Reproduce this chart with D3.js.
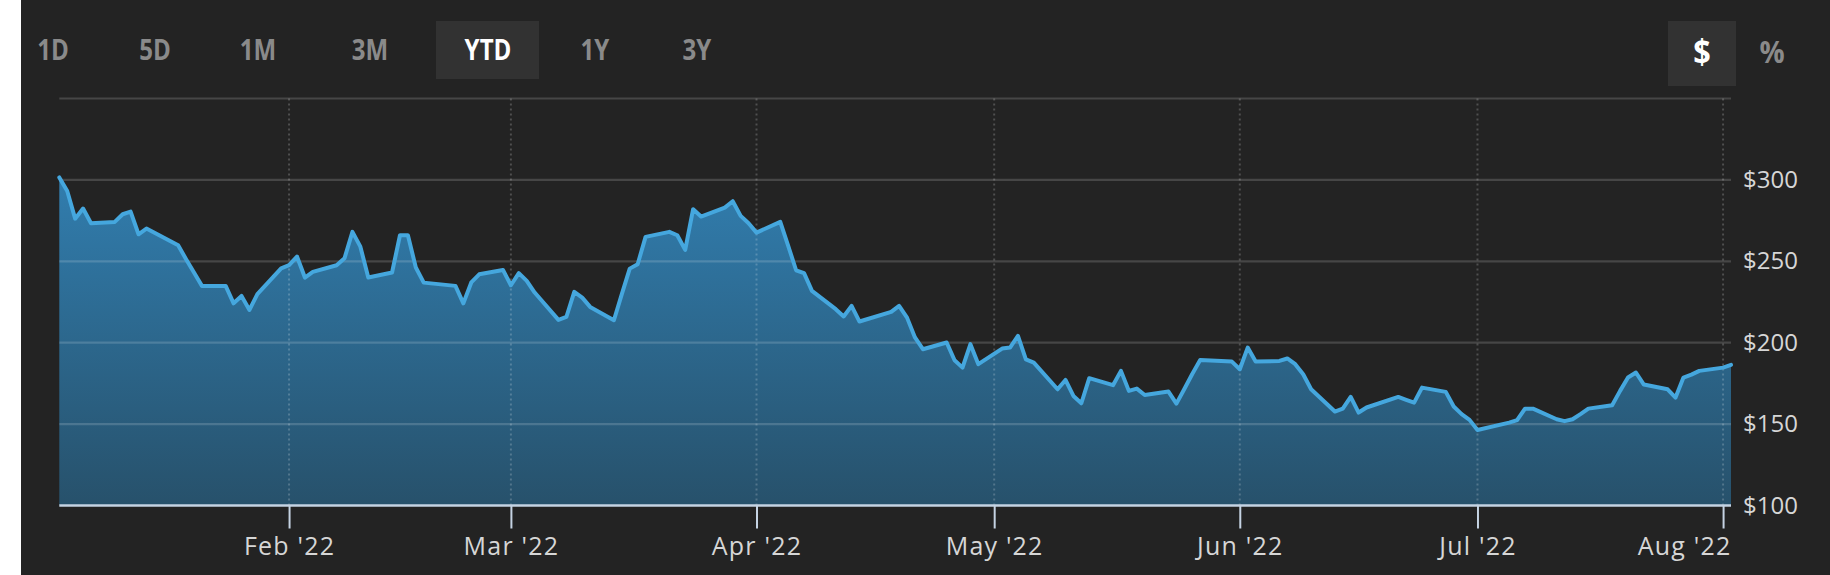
<!DOCTYPE html>
<html><head><meta charset="utf-8">
<script src="https://cdn.jsdelivr.net/npm/d3@7"></script>
<style>
html,body{margin:0;padding:0;background:#fff;}
svg{display:block;}
</style></head><body>
<svg id="chart" width="1830" height="575"></svg>
<script>
// ---- data ----
const dates = [
"2022-01-03","2022-01-04","2022-01-05","2022-01-06","2022-01-07",
"2022-01-10","2022-01-11","2022-01-12","2022-01-13","2022-01-14",
"2022-01-18","2022-01-19","2022-01-20","2022-01-21",
"2022-01-24","2022-01-25","2022-01-26","2022-01-27","2022-01-28",
"2022-01-31","2022-02-01","2022-02-02","2022-02-03","2022-02-04",
"2022-02-07","2022-02-08","2022-02-09","2022-02-10","2022-02-11",
"2022-02-14","2022-02-15","2022-02-16","2022-02-17","2022-02-18",
"2022-02-22","2022-02-23","2022-02-24","2022-02-25",
"2022-02-28","2022-03-01","2022-03-02","2022-03-03","2022-03-04",
"2022-03-07","2022-03-08","2022-03-09","2022-03-10","2022-03-11",
"2022-03-14","2022-03-15","2022-03-16","2022-03-17","2022-03-18",
"2022-03-21","2022-03-22","2022-03-23","2022-03-24","2022-03-25",
"2022-03-28","2022-03-29","2022-03-30","2022-03-31","2022-04-01",
"2022-04-04","2022-04-05","2022-04-06","2022-04-07","2022-04-08",
"2022-04-11","2022-04-12","2022-04-13","2022-04-14",
"2022-04-18","2022-04-19","2022-04-20","2022-04-21","2022-04-22",
"2022-04-25","2022-04-26","2022-04-27","2022-04-28","2022-04-29",
"2022-05-02","2022-05-03","2022-05-04","2022-05-05","2022-05-06",
"2022-05-09","2022-05-10","2022-05-11","2022-05-12","2022-05-13",
"2022-05-16","2022-05-17","2022-05-18","2022-05-19","2022-05-20",
"2022-05-23","2022-05-24","2022-05-25","2022-05-26","2022-05-27",
"2022-05-31","2022-06-01","2022-06-02","2022-06-03",
"2022-06-06","2022-06-07","2022-06-08","2022-06-09","2022-06-10",
"2022-06-13","2022-06-14","2022-06-15","2022-06-16","2022-06-17",
"2022-06-21","2022-06-22","2022-06-23","2022-06-24",
"2022-06-27","2022-06-28","2022-06-29","2022-06-30","2022-07-01",
"2022-07-05","2022-07-06","2022-07-07","2022-07-08",
"2022-07-11","2022-07-12","2022-07-13","2022-07-14","2022-07-15",
"2022-07-18","2022-07-19","2022-07-20","2022-07-21","2022-07-22",
"2022-07-25","2022-07-26","2022-07-27","2022-07-28","2022-07-29",
"2022-08-01","2022-08-02"
];
const prices = [
301.5,293.2,276.2,282.4,273.4,
274.2,278.9,280.5,266.6,270.1,
259.9,251.3,243.1,234.9,
234.9,224.2,228.7,220.1,229.8,
245.7,247.6,252.9,240.0,243.5,
247.6,251.9,268.1,259.0,240.0,
243.1,266.0,266.0,246.2,236.9,
234.9,224.2,237.0,242.0,
244.7,235.3,242.7,238.0,230.8,
214.0,215.8,231.2,227.7,222.0,
213.8,229.8,245.5,248.2,265.0,
268.1,266.0,257.0,282.0,277.5,
283.0,286.9,277.9,273.4,267.6,
274.2,259.5,244.5,242.7,231.8,
220.6,216.1,222.6,213.0,
218.9,222.6,215.4,203.2,196.0,
200.1,189.2,184.7,199.1,186.8,
196.4,197.0,204.2,189.8,187.8,
171.4,177.1,167.3,162.8,178.2,
173.9,182.7,170.4,171.8,167.9,
170.0,162.6,171.6,180.8,189.4,
188.4,183.7,197.0,188.4,
188.8,190.3,186.8,180.6,171.4,
157.7,159.5,166.7,157.1,160.2,
166.7,164.9,163.2,172.4,
169.8,160.8,156.1,152.6,146.4,
150.9,152.4,159.5,159.5,
153.0,151.8,153.0,156.1,159.5,
161.6,170.4,178.6,181.7,174.3,
171.4,166.3,178.6,180.4,182.7,
184.7,186.4
];
const rangeButtons = ["1D","5D","1M","3M","YTD","1Y","3Y"];
const activeRange = "YTD";
const unitButtons = ["$","%"];
const activeUnit = "$";
const yTickValues = [100,150,200,250,300];
const yGridValues = [150,200,250,300,350];
const xTickDates = ["2022-02-01","2022-03-01","2022-04-01","2022-05-01","2022-06-01","2022-07-01","2022-08-01"];
const domainStart = "2022-01-03", domainEnd = "2022-08-02";
const yDomain = [100,350];

// ---- layout ----
const W = 1830, H = 575;
const plot = {left: 59.3, right: 1731, top: 98.5, bottom: 505.5};
const FONT = "'Open Sans', 'Noto Sans', sans-serif";
const parse = d3.utcParse("%Y-%m-%d");
const data = dates.map((d,i)=>({date: parse(d), v: prices[i]}));

const svg = d3.select("#chart");
svg.append("rect").attr("x",21).attr("y",0).attr("width",W-21).attr("height",H).attr("fill","#232323");

const x = d3.scaleUtc().domain([parse(domainStart), parse(domainEnd)]).range([plot.left, plot.right]);
const y = d3.scaleLinear().domain(yDomain).range([plot.bottom, plot.top]);

// gradient
const defs = svg.append("defs");
const grad = defs.append("linearGradient").attr("id","areaGrad")
  .attr("gradientUnits","userSpaceOnUse").attr("x1",0).attr("x2",0)
  .attr("y1",y(300)).attr("y2",plot.bottom);
grad.append("stop").attr("offset","0%").attr("stop-color","#317dae");
grad.append("stop").attr("offset","100%").attr("stop-color","#27516b");

// area
svg.append("path").datum(data)
  .attr("d", d3.area().x(d=>x(d.date)).y0(y(yDomain[0])).y1(d=>y(d.v)))
  .attr("fill","url(#areaGrad)");

// horizontal grid
svg.append("g").selectAll("line").data(yGridValues).join("line")
  .attr("x1",plot.left).attr("x2",plot.right)
  .attr("y1",d=>y(d)).attr("y2",d=>y(d))
  .attr("stroke","rgba(255,255,255,0.16)").attr("stroke-width",2.2);

// vertical dotted grid
svg.append("g").selectAll("line").data(xTickDates.map(parse)).join("line")
  .attr("x1",d=>x(d)).attr("x2",d=>x(d))
  .attr("y1",plot.top).attr("y2",plot.bottom)
  .attr("stroke","rgba(255,255,255,0.2)").attr("stroke-width",2).attr("stroke-dasharray","2,3");

// line
svg.append("path").datum(data)
  .attr("d", d3.line().x(d=>x(d.date)).y(d=>y(d.v)))
  .attr("fill","none").attr("stroke","#45a7de").attr("stroke-width",4)
  .attr("stroke-linejoin","round").attr("stroke-linecap","round");

// x axis
const xAxis = svg.append("g").attr("transform",`translate(0,${plot.bottom})`)
  .call(d3.axisBottom(x).tickValues(xTickDates.map(parse))
    .tickFormat(d3.utcFormat("%b '%y")).tickSize(23).tickPadding(9));
xAxis.select(".domain").remove();
xAxis.selectAll(".tick line").attr("stroke","#c5d3e3").attr("stroke-width",2);
xAxis.selectAll(".tick text").attr("fill","#d6d6d6").style("font-family",FONT)
  .style("font-size","25px").style("letter-spacing","1.2px");
xAxis.selectAll(".tick").each(function(d){
  const t = d3.select(this).select("text");
  const w = t.node().getComputedTextLength();
  const px = x(d);
  if (px + w/2 > plot.right) { t.attr("text-anchor","end").attr("x", plot.right - px); }
});
svg.append("line").attr("x1",plot.left).attr("x2",plot.right)
  .attr("y1",plot.bottom).attr("y2",plot.bottom)
  .attr("stroke","#c5d3e3").attr("stroke-width",2.6);

// y axis
const yAxis = svg.append("g").attr("transform",`translate(${plot.right},0)`)
  .call(d3.axisRight(y).tickValues(yTickValues).tickFormat(d=>"$"+d).tickSize(0).tickPadding(12));
yAxis.select(".domain").remove();
yAxis.selectAll(".tick text").attr("fill","#d6d6d6").style("font-family",FONT).style("font-size","24px");

// range buttons
const btnCenters = [53,155,258,370,488,595,697];
const btnG = svg.append("g");
rangeButtons.forEach((b,i)=>{
  if (b===activeRange) {
    btnG.append("rect").attr("x",btnCenters[i]-52).attr("y",21).attr("width",103).attr("height",58).attr("fill","#323232");
  }
  btnG.append("text").attr("transform",`translate(${btnCenters[i]},50) scale(0.86,1)`).attr("dy","0.36em")
    .attr("text-anchor","middle").style("font-family",FONT).style("font-size","28px").style("font-weight",700)
    .attr("fill", b===activeRange ? "#ffffff" : "#8a8a8a").text(b);
});
// unit buttons
const unitCenters = [1702,1772];
unitButtons.forEach((b,i)=>{
  if (b===activeUnit) {
    btnG.append("rect").attr("x",unitCenters[i]-34).attr("y",21).attr("width",68).attr("height",65).attr("fill","#323232");
  }
  btnG.append("text").attr("transform",`translate(${unitCenters[i]},52) scale(0.9,1)`).attr("dy","0.36em")
    .attr("text-anchor","middle").style("font-family",FONT).style("font-size", b==="$" ? "34px" : "31px").style("font-weight",700)
    .attr("fill", b===activeUnit ? "#ffffff" : "#8a8a8a").text(b);
});
</script>
</body></html>
